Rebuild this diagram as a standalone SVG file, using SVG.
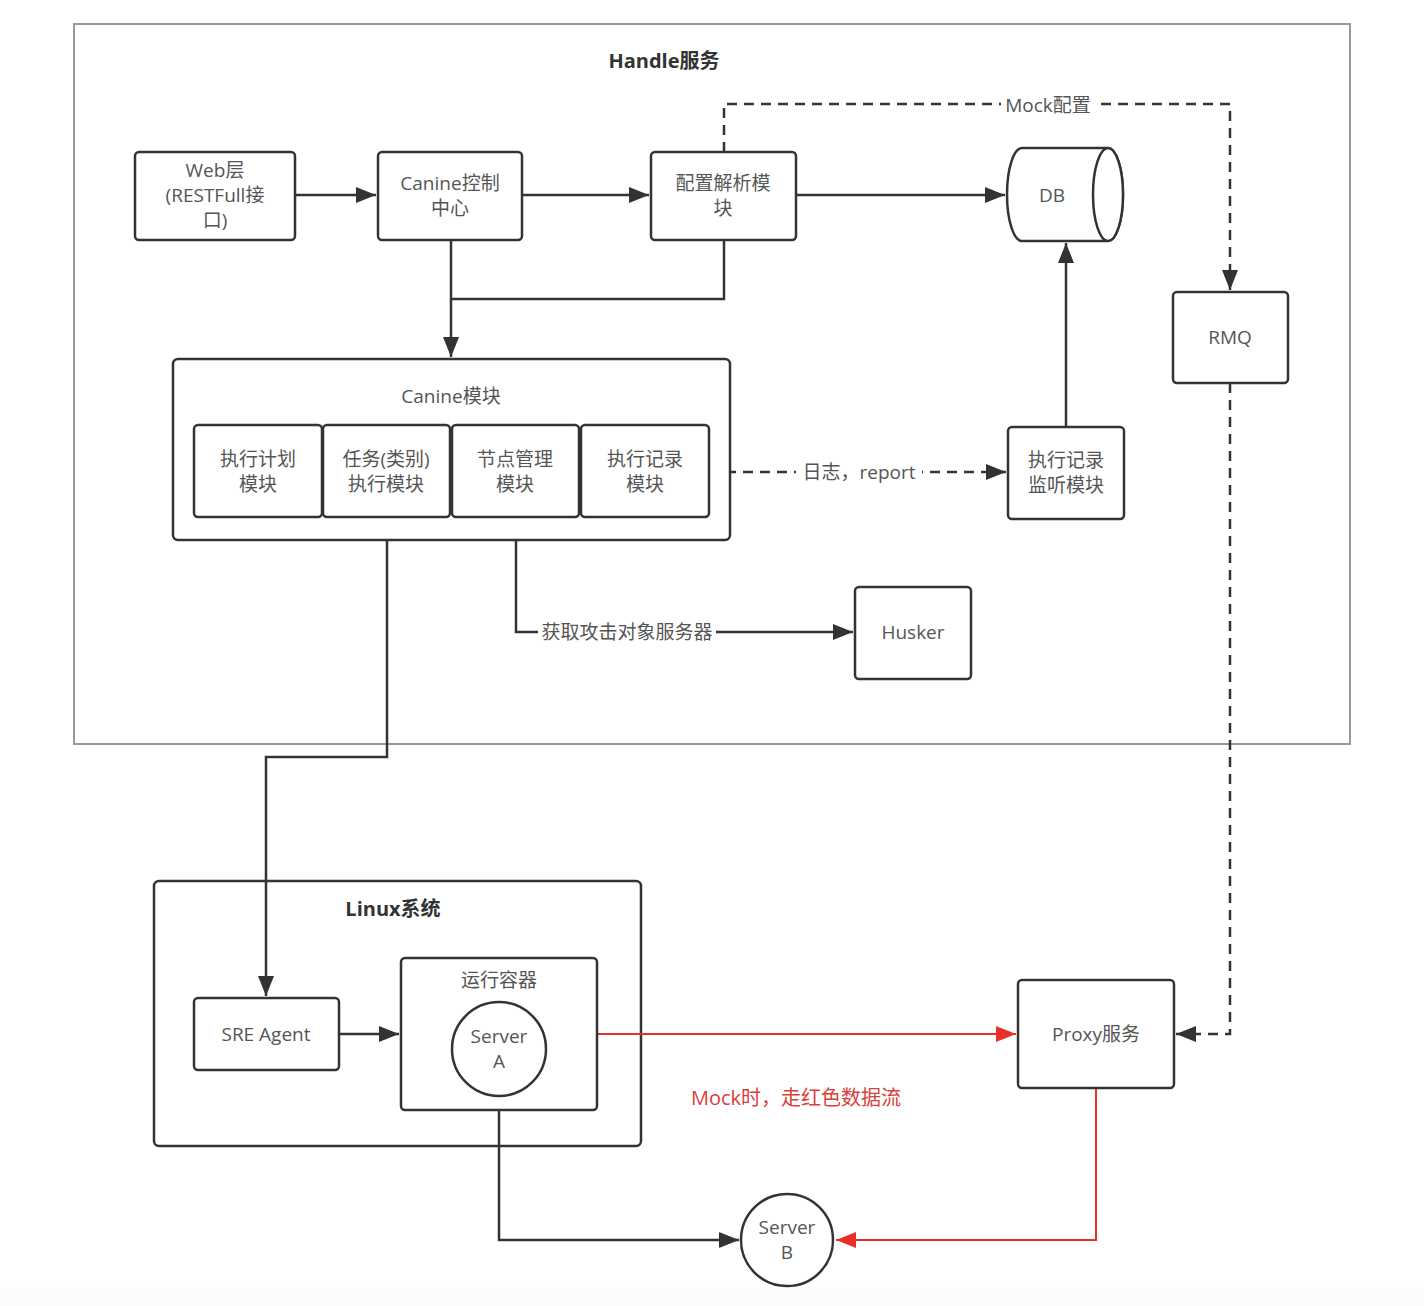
<svg xmlns="http://www.w3.org/2000/svg" width="1424" height="1306" viewBox="0 0 1424 1306">
<defs>
<style>
.box{fill:#fff;stroke:#333;stroke-width:2.5}
.frame{fill:none;stroke:#999;stroke-width:2}
.t{font-family:"Open Sans","Noto Sans CJK SC",sans-serif;font-size:19px;fill:#555;text-anchor:middle;dominant-baseline:central}
.b{font-weight:bold;fill:#333;font-size:20px}
.ln{fill:none;stroke:#333;stroke-width:2.5}
.dash{stroke-dasharray:10,7}
.red{fill:none;stroke:#e8302a;stroke-width:2}
.lbg{fill:#fff}
</style>
<marker id="ah" markerUnits="userSpaceOnUse" markerWidth="22" markerHeight="16" refX="20" refY="8" orient="auto">
<path d="M0,0 L20,8 L0,16 Z" fill="#333"/>
</marker>
<marker id="ahr" markerUnits="userSpaceOnUse" markerWidth="22" markerHeight="16" refX="20" refY="8" orient="auto">
<path d="M0,0 L20,8 L0,16 Z" fill="#e8302a"/>
</marker>
</defs>
<rect x="0" y="0" width="1424" height="1306" fill="#fff"/>
<rect x="0" y="1287" width="1424" height="19" fill="#fbfbfb"/>

<g id="handle">
<rect class="frame" x="74" y="24" width="1276" height="720"/>
<text class="t b" x="664" y="60">Handle服务</text>
</g>
<g id="linux">
<rect class="box" x="154" y="881" width="487" height="265" rx="5"/>
<text class="t b" x="393" y="908">Linux系统</text>
</g>

<g id="connectors">
<path class="ln" d="M295,195 L376,195" marker-end="url(#ah)"/>
<path class="ln" d="M522,195 L649,195" marker-end="url(#ah)"/>
<path class="ln" d="M796,195 L1005,195" marker-end="url(#ah)"/>
<path class="ln" d="M451,240 L451,357" marker-end="url(#ah)"/>
<path class="ln" d="M724,240 L724,299 L451,299"/>
<path class="ln dash" d="M724,152 L724,104 L1230,104 L1230,290" marker-end="url(#ah)"/>
<path class="ln" d="M1066,427 L1066,243" marker-end="url(#ah)"/>
<path class="ln dash" d="M709,472 L1006,472" marker-end="url(#ah)"/>
<path class="ln" d="M516,517 L516,632 L853,632" marker-end="url(#ah)"/>
<path class="ln" d="M387,517 L387,757 L266,757 L266,996" marker-end="url(#ah)"/>
<path class="ln" d="M339,1034 L399,1034" marker-end="url(#ah)"/>
<path class="red" d="M597,1034 L1016,1034" marker-end="url(#ahr)"/>
<path class="ln dash" d="M1230,383 L1230,1034 L1176,1034" marker-end="url(#ah)"/>
<path class="ln" d="M499,1096 L499,1240 L739,1240" marker-end="url(#ah)"/>
<path class="red" d="M1096,1088 L1096,1240 L836,1240" marker-end="url(#ahr)"/>
<rect class="lbg" x="1001" y="92" width="94" height="24"/>
<text class="t" x="1048" y="105">Mock配置</text>
<rect class="lbg" x="796" y="460" width="126" height="24"/>
<text class="t" x="859" y="472">日志，report</text>
<rect class="lbg" x="538" y="620" width="178" height="24"/>
<text class="t" x="627" y="632">获取攻击对象服务器</text>
<text class="t" x="796" y="1097" style="fill:#d9403a;font-size:20px">Mock时，走红色数据流</text>
</g>

<g id="web">
<rect class="box" x="135" y="152" width="160" height="88" rx="4"/>
<text class="t" x="215" y="170">Web层</text>
<text class="t" x="215" y="195">(RESTFull接</text>
<text class="t" x="215" y="220">口)</text>
</g>
<g id="canine-ctrl">
<rect class="box" x="378" y="152" width="144" height="88" rx="4"/>
<text class="t" x="450" y="183">Canine控制</text>
<text class="t" x="450" y="208">中心</text>
</g>
<g id="config">
<rect class="box" x="651" y="152" width="145" height="88" rx="4"/>
<text class="t" x="723" y="183">配置解析模</text>
<text class="t" x="723" y="208">块</text>
</g>
<g id="db">
<path class="box" d="M1022,148 L1108,148 A15,46.5 0 0 1 1108,241 L1022,241 A15,46.5 0 0 1 1022,148 Z"/>
<ellipse class="box" cx="1108" cy="194.5" rx="15" ry="46.5"/>
<text class="t" x="1052" y="195">DB</text>
</g>
<g id="rmq">
<rect class="box" x="1173" y="292" width="115" height="91" rx="4"/>
<text class="t" x="1230" y="337">RMQ</text>
</g>
<g id="canine-mod">
<rect class="box" x="173" y="359" width="557" height="181" rx="5"/>
<text class="t" x="451" y="396">Canine模块</text>
</g>
<g id="plan">
<rect class="box" x="194" y="425" width="128" height="92" rx="4"/>
<text class="t" x="258" y="459">执行计划</text>
<text class="t" x="258" y="484">模块</text>
</g>
<g id="task">
<rect class="box" x="323" y="425" width="127" height="92" rx="4"/>
<text class="t" x="386" y="459">任务(类别)</text>
<text class="t" x="386" y="484">执行模块</text>
</g>
<g id="node">
<rect class="box" x="452" y="425" width="127" height="92" rx="4"/>
<text class="t" x="515" y="459">节点管理</text>
<text class="t" x="515" y="484">模块</text>
</g>
<g id="record">
<rect class="box" x="581" y="425" width="128" height="92" rx="4"/>
<text class="t" x="645" y="459">执行记录</text>
<text class="t" x="645" y="484">模块</text>
</g>
<g id="listener">
<rect class="box" x="1008" y="427" width="116" height="92" rx="4"/>
<text class="t" x="1066" y="460">执行记录</text>
<text class="t" x="1066" y="485">监听模块</text>
</g>
<g id="husker">
<rect class="box" x="855" y="587" width="116" height="92" rx="4"/>
<text class="t" x="913" y="632">Husker</text>
</g>
<g id="sre">
<rect class="box" x="194" y="998" width="145" height="72" rx="4"/>
<text class="t" x="266" y="1034">SRE Agent</text>
</g>
<g id="container">
<rect class="box" x="401" y="958" width="196" height="152" rx="4"/>
<text class="t" x="499" y="980">运行容器</text>
</g>
<g id="serverA">
<circle class="box" cx="499" cy="1049" r="47"/>
<text class="t" x="499" y="1036">Server</text>
<text class="t" x="499" y="1061">A</text>
</g>
<g id="proxy">
<rect class="box" x="1018" y="980" width="156" height="108" rx="4"/>
<text class="t" x="1096" y="1034">Proxy服务</text>
</g>
<g id="serverB">
<circle class="box" cx="787" cy="1240" r="46"/>
<text class="t" x="787" y="1227">Server</text>
<text class="t" x="787" y="1252">B</text>
</g>
</svg>
